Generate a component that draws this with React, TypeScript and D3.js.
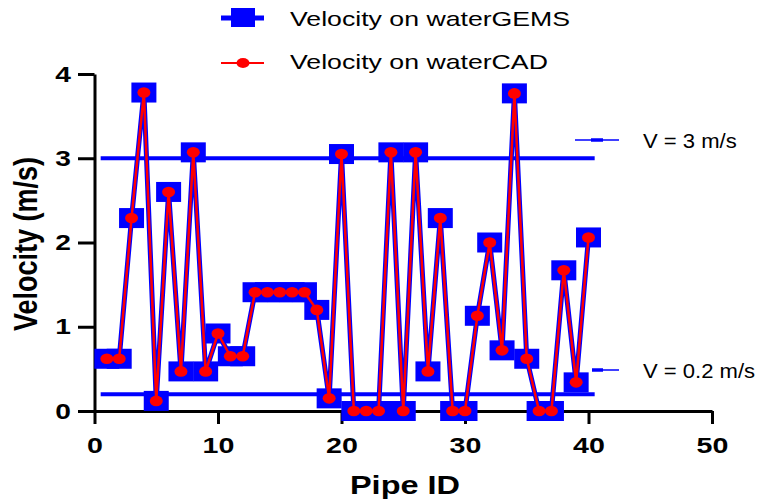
import React, { useEffect, useRef } from "react";
import * as d3 from "d3";

// Pipe IDs and velocities (m/s)
const pipeIds = [
  1, 2, 3, 4, 5, 6, 7, 8, 9, 10, 11, 12, 13, 14, 15, 16, 17, 18, 19, 20,
  21, 22, 23, 24, 25, 26, 27, 28, 29, 30, 31, 32, 33, 34, 35, 36, 37, 38, 39, 40,
];
const velocityGEMS = [
  0.62, 0.62, 2.29, 3.78, 0.12, 2.6, 0.47, 3.07, 0.47, 0.92, 0.65, 0.65, 1.41, 1.41,
  1.41, 1.41, 1.41, 1.2, 0.15, 3.05, 0, 0, 0, 3.07, 0, 3.07, 0.47, 2.29, 0, 0,
  1.13, 2.0, 0.72, 3.77, 0.62, 0, 0, 1.67, 0.34, 2.06,
];
const velocityCAD = [
  0.62, 0.62, 2.29, 3.78, 0.12, 2.6, 0.47, 3.07, 0.47, 0.92, 0.65, 0.65, 1.41, 1.41,
  1.41, 1.41, 1.41, 1.2, 0.15, 3.05, 0, 0, 0, 3.07, 0, 3.07, 0.47, 2.29, 0, 0,
  1.13, 2.0, 0.72, 3.77, 0.62, 0, 0, 1.67, 0.34, 2.06,
];
const limitLabels = ["V = 3 m/s", "V = 0.2 m/s"];
const limitValues = [3, 0.2];
const xTicks = [0, 10, 20, 30, 40, 50];
const yTicks = [0, 1, 2, 3, 4];

const FONT = "'Liberation Sans', Arial, Helvetica, sans-serif";
const BLUE = "#0000ff";
const RED = "#ff0000";

const App = () => {
  const svgRef = useRef<SVGSVGElement>(null);

  useEffect(() => {
    const width = 758;
    const height = 504;
    const svg = d3.select(svgRef.current);
    svg.selectAll("*").remove();
    svg.attr("width", width).attr("height", height);

    const x = d3.scaleLinear().domain([0, 50]).range([94.5, 712]);
    const y = d3.scaleLinear().domain([0, 4]).range([411, 74]);

    // X axis
    const gx = svg.append("g")
      .attr("transform", `translate(0,${y(0)})`)
      .call(d3.axisBottom(x).tickValues(xTicks).tickFormat(d3.format("d")).tickSize(13).tickSizeOuter(0).tickPadding(13));
    gx.select(".domain").attr("stroke", "#000").attr("stroke-width", 3);
    gx.selectAll(".tick line").attr("stroke", "#000").attr("stroke-width", 3);
    gx.selectAll(".tick text")
      .attr("fill", "#000")
      .style("font-family", FONT)
      .style("font-size", "22px")
      .style("font-weight", "bold")
      .attr("transform", "scale(1.3,1)");

    // Y axis
    const gy = svg.append("g")
      .attr("transform", `translate(${x(0)},0)`)
      .call(d3.axisLeft(y).tickValues(yTicks).tickFormat(d3.format("d")).tickSize(16.5).tickSizeOuter(0).tickPadding(7));
    gy.select(".domain").attr("stroke", "#000").attr("stroke-width", 3);
    gy.selectAll(".tick line").attr("stroke", "#000").attr("stroke-width", 3);
    gy.selectAll(".tick text")
      .attr("fill", "#000")
      .attr("x", -23.5 / 1.28)
      .style("font-family", FONT)
      .style("font-size", "22px")
      .style("font-weight", "bold")
      .attr("transform", "scale(1.28,1)");

    // Axis titles
    svg.append("text")
      .attr("transform", "translate(405,494) scale(1.3,1)")
      .attr("text-anchor", "middle")
      .style("font-family", FONT)
      .style("font-size", "25px")
      .style("font-weight", "bold")
      .text("Pipe ID");

    svg.append("text")
      .attr("transform", "translate(37,244) scale(1.25,1) rotate(-90)")
      .attr("text-anchor", "middle")
      .style("font-family", FONT)
      .style("font-size", "27px")
      .style("font-weight", "bold")
      .text("Velocity (m/s)");

    // Limit lines (under the data)
    const xStart = d3.min(pipeIds) - 0.5;
    const xEnd = d3.max(pipeIds) + 0.5;
    limitValues.forEach(v => {
      svg.append("line")
        .attr("x1", x(xStart))
        .attr("x2", x(xEnd))
        .attr("y1", y(v))
        .attr("y2", y(v))
        .attr("stroke", BLUE)
        .attr("stroke-width", 4);
    });

    const gemsData = pipeIds.map((id, i) => ({ id, v: velocityGEMS[i] }));
    const cadData = pipeIds.map((id, i) => ({ id, v: velocityCAD[i] }));
    const line = d3.line<{ id: number; v: number }>().x(d => x(d.id)).y(d => y(d.v));

    // waterGEMS series: blue line + squares
    svg.append("path")
      .attr("d", line(gemsData))
      .attr("fill", "none")
      .attr("stroke", BLUE)
      .attr("stroke-width", 5)
      .attr("stroke-linejoin", "round");

    svg.selectAll("rect.gems")
      .data(gemsData)
      .join("rect")
      .attr("class", "gems")
      .attr("x", d => x(d.id) - 12.5)
      .attr("y", d => y(d.v) - 10)
      .attr("width", 25)
      .attr("height", 20)
      .attr("fill", BLUE);

    // waterCAD series: red line + dots
    svg.append("path")
      .attr("d", line(cadData))
      .attr("fill", "none")
      .attr("stroke", RED)
      .attr("stroke-width", 2.5)
      .attr("stroke-linejoin", "round");

    svg.selectAll("ellipse.cad")
      .data(cadData)
      .join("ellipse")
      .attr("class", "cad")
      .attr("cx", d => x(d.id))
      .attr("cy", d => y(d.v))
      .attr("rx", 6.5)
      .attr("ry", 5.3)
      .attr("fill", RED);

    // Top legend
    const legend = svg.append("g");
    legend.append("line")
      .attr("x1", 221).attr("x2", 264).attr("y1", 18).attr("y2", 18)
      .attr("stroke", BLUE).attr("stroke-width", 5);
    legend.append("rect")
      .attr("x", 231).attr("y", 8).attr("width", 24).attr("height", 19)
      .attr("fill", BLUE);
    legend.append("text")
      .attr("transform", "translate(290,26) scale(1.27,1)")
      .style("font-family", FONT)
      .style("font-size", "21px")
      .text("Velocity on waterGEMS");

    legend.append("line")
      .attr("x1", 221).attr("x2", 264).attr("y1", 63).attr("y2", 63)
      .attr("stroke", RED).attr("stroke-width", 2);
    legend.append("ellipse")
      .attr("cx", 243).attr("cy", 63).attr("rx", 6.5).attr("ry", 5)
      .attr("fill", RED);
    legend.append("text")
      .attr("transform", "translate(290,69) scale(1.27,1)")
      .style("font-family", FONT)
      .style("font-size", "21px")
      .text("Velocity on waterCAD");

    // Right-side limit labels
    const limitLegend = [
      { y: 140, thin: [575, 619], thick: [591, 603], base: 148 },
      { y: 370, thin: [603, 619], thick: [592, 603], base: 378 },
    ];
    limitLegend.forEach((l, i) => {
      svg.append("line")
        .attr("x1", l.thin[0]).attr("x2", l.thin[1]).attr("y1", l.y).attr("y2", l.y)
        .attr("stroke", BLUE).attr("stroke-width", 1.5);
      svg.append("line")
        .attr("x1", l.thick[0]).attr("x2", l.thick[1]).attr("y1", l.y).attr("y2", l.y)
        .attr("stroke", BLUE).attr("stroke-width", 3.5);
      svg.append("text")
        .attr("transform", `translate(643,${l.base}) scale(1.05,1)`)
        .style("font-family", FONT)
        .style("font-size", "21px")
        .text(limitLabels[i]);
    });
  }, []);

  return (
    <div style={{ position: "absolute", left: 0, top: 0, width: 758, height: 504, background: "#fff" }}>
      <svg ref={svgRef}></svg>
    </div>
  );
};

export default App;
